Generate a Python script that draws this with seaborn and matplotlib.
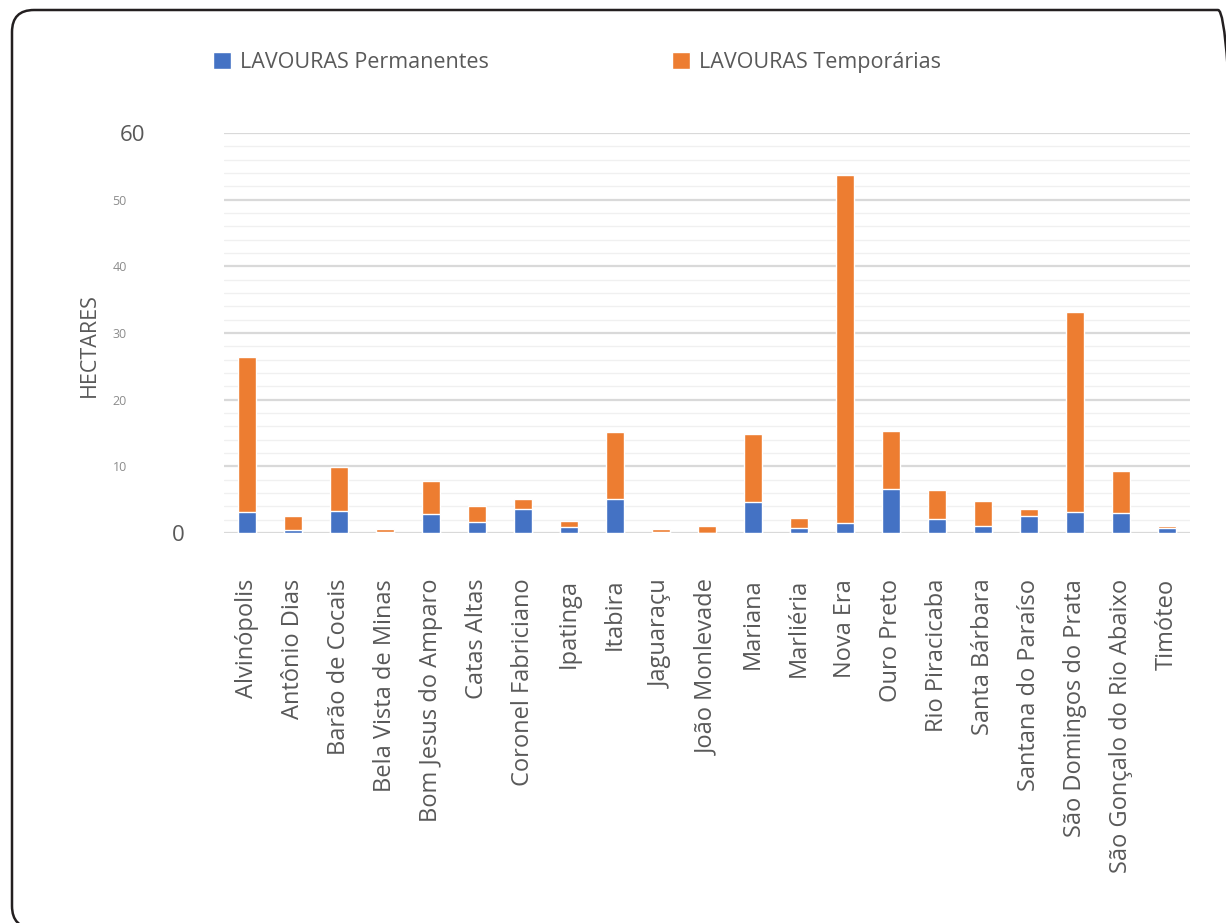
import numpy as np
import pandas as pd
import matplotlib
matplotlib.use("Agg")
import matplotlib.pyplot as plt
from matplotlib.patches import Patch, FancyBboxPatch
import seaborn as sns

# municipios and area values (hectares)
municipios = [
    "Alvinópolis", "Antônio Dias", "Barão de Cocais", "Bela Vista de Minas",
    "Bom Jesus do Amparo", "Catas Altas", "Coronel Fabriciano", "Ipatinga",
    "Itabira", "Jaguaraçu", "João Monlevade", "Mariana", "Marliéria",
    "Nova Era", "Ouro Preto", "Rio Piracicaba", "Santa Bárbara",
    "Santana do Paraíso", "São Domingos do Prata", "São Gonçalo do Rio Abaixo",
    "Timóteo",
]
permanentes = [3.2, 0.45, 3.35, 0.1, 2.8, 1.7, 3.55, 0.95, 5.1, 0.1, -0.3,
               4.6, 0.7, 1.45, 6.6, 2.1, 1.1, 2.6, 3.2, 2.95, 0.7]
temporarias = [23.2, 2.15, 6.6, 0.5, 5.05, 2.35, 1.55, 0.9, 10.1, 0.5, 1.05,
               10.2, 1.6, 52.25, 8.75, 4.35, 3.7, 1.0, 29.9, 6.4, 0.35]
y_ticks = [0, 10, 20, 30, 40, 50, 60]
y_tick_labels = ["0", "10", "20", "30", "40", "50", "60"]

df = pd.DataFrame({"municipio": municipios,
                   "perm": permanentes,
                   "temp": temporarias})
df["total"] = df["perm"].clip(lower=0) + df["temp"]

sns.set_theme(style="white")
plt.rcParams["font.family"] = ["Open Sans", "DejaVu Sans"]

blue = "#4472C4"
orange = "#ED7D31"
gray_txt = "#595959"

fig = plt.figure(figsize=(12.26, 9.23), dpi=100)
ax = fig.add_axes([224 / 1226, 1 - 533 / 923, 966 / 1226, 400 / 923])

# stacked bars: orange total first, blue permanent part on top of it
sns.barplot(data=df, x="municipio", y="total", color=orange, width=0.4,
            saturation=1, ax=ax, zorder=3)
sns.barplot(data=df, x="municipio", y="perm", color=blue, width=0.4,
            saturation=1, ax=ax, zorder=4)

ax.set_ylim(0, 60)
ax.set_xlim(-0.5, len(municipios) - 0.5)
ax.set_yticks(y_ticks)
ax.set_yticks(np.arange(0, 60, 2), minor=True)
ax.set_yticklabels(y_tick_labels)
ax.grid(axis="y", which="major", color="#D9D9D9", lw=1.6, zorder=0)
ax.grid(axis="y", which="minor", color="#F0F0F0", lw=1.0, zorder=0)
ax.set_axisbelow(True)
for s in ax.spines.values():
    s.set_visible(False)
ax.tick_params(axis="both", length=0)

ax.set_xticks(range(len(municipios)))
ax.set_xticklabels(municipios, rotation=90, fontsize=17, color=gray_txt,
                   va="top", ha="center")
ax.tick_params(axis="x", pad=33)
ax.set_xlabel("")

# y tick labels: odd placement in the source chart
for i, t in enumerate(ax.yaxis.get_major_ticks()):
    if i == 0:
        t.set_pad(28)
        t.label1.set_fontsize(16)
        t.label1.set_color(gray_txt)
    elif i == len(y_ticks) - 1:
        t.set_pad(57)
        t.label1.set_fontsize(16)
        t.label1.set_color(gray_txt)
    else:
        t.set_pad(70)
        t.label1.set_fontsize(9)
        t.label1.set_color("#8C8C8C")

ax.set_ylabel("HECTARES", fontsize=15.5, color=gray_txt)
ax.yaxis.set_label_coords(-0.129, 0.47)

handles = [Patch(facecolor=blue, label="LAVOURAS Permanentes"),
           Patch(facecolor=orange, label="LAVOURAS Temporárias")]
fig.legend(handles=handles, loc="upper left", bbox_to_anchor=(0.174, 0.944),
           bbox_transform=fig.transFigure, ncol=2, frameon=False,
           fontsize=15.5, labelcolor=gray_txt, handlelength=0.84,
           handleheight=0.84, handletextpad=0.42, columnspacing=8.5,
           borderpad=0, borderaxespad=0)

# rounded frame around the figure
frame = FancyBboxPatch((0.12, -0.05), 12.28, 9.18,
                       boxstyle="round,pad=0,rounding_size=0.22",
                       transform=fig.dpi_scale_trans, facecolor="none",
                       edgecolor="#231F20", lw=1.8, clip_on=False)
fig.add_artist(frame)

fig.savefig("out.png", dpi=100, facecolor="white")
